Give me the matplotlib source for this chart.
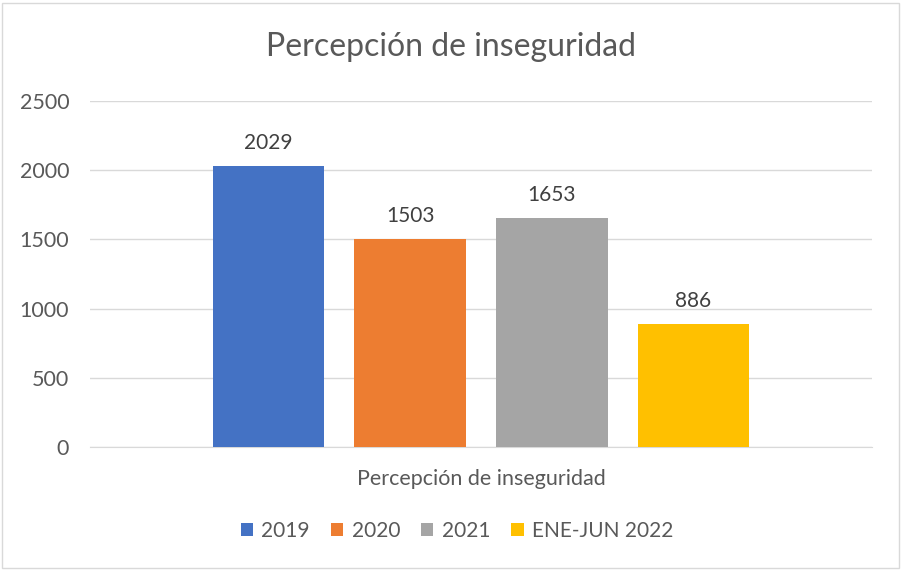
import matplotlib
matplotlib.use("Agg")
import matplotlib.pyplot as plt
from matplotlib.patches import Rectangle

plt.rcParams['font.family'] = ['Lato', 'DejaVu Sans']

series = ["2019", "2020", "2021", "ENE-JUN 2022"]
values = [2029, 1503, 1653, 886]
colors = ["#4472C4", "#ED7D31", "#A5A5A5", "#FFC000"]
category = "Percepción de inseguridad"
title = "Percepción de inseguridad"
yticks = [0, 500, 1000, 1500, 2000, 2500]

W, H = 902, 570
fig = plt.figure(figsize=(W / 100, H / 100), dpi=100)
fig.patches.append(Rectangle((2 / W, 2 / H), 897 / W, 565 / H, transform=fig.transFigure,
                             fill=False, edgecolor="#D9D9D9", linewidth=1))

ax = fig.add_axes([90 / W, 1 - 447 / H, 782 / W, 346 / H])
txt = "#595959"
fs = 15.5
width = 0.79
handles = []
for i, (s, v, c) in enumerate(zip(series, values, colors)):
    b = ax.bar(i - 1.5, v, width=width, color=c, label=s, zorder=3)
    handles.append(b)
    ax.text(i - 1.5, v + 95, f"{v}", ha="center", va="bottom", fontsize=15, color="#404040")

ax.set_xlim(-2.76, 2.76)
ax.set_ylim(0, 2500)
ax.set_yticks(yticks)
ax.set_yticklabels([str(t) for t in yticks], fontsize=fs, color=txt)
ax.set_xticks([])
ax.tick_params(axis="y", length=0, pad=15)
ax.grid(axis="y", color="#D9D9D9", linewidth=1, zorder=0)
for sp in ["top", "right", "left"]:
    ax.spines[sp].set_visible(False)
ax.spines["bottom"].set_color("#D9D9D9")

fig.text(481 / W, 1 - 479 / H, category, ha="center", va="center", fontsize=fs, color=txt)
fig.text(451 / W, 1 - 47 / H, title, ha="center", va="center", fontsize=23, color=txt)

fig.legend(handles=handles, labels=series, loc="center", bbox_to_anchor=(457 / W, 1 - 531 / H),
           ncol=4, frameon=False, fontsize=15, handlelength=0.6, handleheight=0.6,
           handletextpad=0.4, columnspacing=1.0, labelcolor=txt)

fig.savefig("out.png", dpi=100)
